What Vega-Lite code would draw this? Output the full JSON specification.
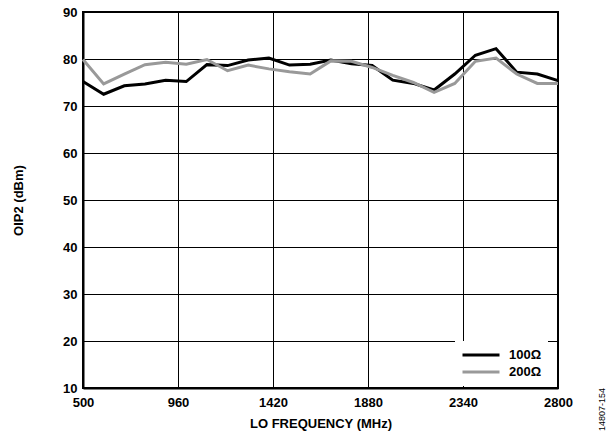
{
  "$schema": "https://vega.github.io/schema/vega-lite/v6.json",
  "width": 475,
  "height": 376,
  "autosize": {"type": "none"},
  "padding": {"left": 83, "top": 12, "right": 57, "bottom": 52},
  "background": "white",
  "title": {"text": "14807-154", "orient": "right", "anchor": "end", "frame": "group", "angle": -90, "align": "right", "fontSize": 9, "fontWeight": "normal", "font": "Liberation Sans", "color": "black", "offset": 17},
  "config": {
    "view": {"stroke": "black", "strokeWidth": 2},
    "axis": {"labelFont": "Liberation Sans", "titleFont": "Liberation Sans", "labelFontWeight": "bold", "titleFontWeight": "bold", "labelFontSize": 13, "titleFontSize": 13, "labelColor": "black", "titleColor": "black", "gridColor": "black", "gridOpacity": 1, "gridWidth": 1, "ticks": false, "domainColor": "black", "domainWidth": 2}
  },
  "data": {"values": [
    {"freq": 500, "series": "100Ω", "oip2": 75.2},
    {"freq": 600, "series": "100Ω", "oip2": 72.5},
    {"freq": 700, "series": "100Ω", "oip2": 74.3},
    {"freq": 800, "series": "100Ω", "oip2": 74.7},
    {"freq": 900, "series": "100Ω", "oip2": 75.5},
    {"freq": 1000, "series": "100Ω", "oip2": 75.2},
    {"freq": 1100, "series": "100Ω", "oip2": 78.8},
    {"freq": 1200, "series": "100Ω", "oip2": 78.6},
    {"freq": 1300, "series": "100Ω", "oip2": 79.8},
    {"freq": 1400, "series": "100Ω", "oip2": 80.2},
    {"freq": 1500, "series": "100Ω", "oip2": 78.7},
    {"freq": 1600, "series": "100Ω", "oip2": 78.9},
    {"freq": 1700, "series": "100Ω", "oip2": 79.8},
    {"freq": 1800, "series": "100Ω", "oip2": 79.0},
    {"freq": 1900, "series": "100Ω", "oip2": 78.6},
    {"freq": 2000, "series": "100Ω", "oip2": 75.5},
    {"freq": 2100, "series": "100Ω", "oip2": 74.8},
    {"freq": 2200, "series": "100Ω", "oip2": 73.4},
    {"freq": 2300, "series": "100Ω", "oip2": 76.8},
    {"freq": 2400, "series": "100Ω", "oip2": 80.8},
    {"freq": 2500, "series": "100Ω", "oip2": 82.2},
    {"freq": 2600, "series": "100Ω", "oip2": 77.2},
    {"freq": 2700, "series": "100Ω", "oip2": 76.8},
    {"freq": 2800, "series": "100Ω", "oip2": 75.4},
    {"freq": 500, "series": "200Ω", "oip2": 79.9},
    {"freq": 600, "series": "200Ω", "oip2": 74.7},
    {"freq": 700, "series": "200Ω", "oip2": 76.8},
    {"freq": 800, "series": "200Ω", "oip2": 78.8},
    {"freq": 900, "series": "200Ω", "oip2": 79.3},
    {"freq": 1000, "series": "200Ω", "oip2": 78.9},
    {"freq": 1100, "series": "200Ω", "oip2": 79.9},
    {"freq": 1200, "series": "200Ω", "oip2": 77.5},
    {"freq": 1300, "series": "200Ω", "oip2": 78.7},
    {"freq": 1400, "series": "200Ω", "oip2": 77.9},
    {"freq": 1500, "series": "200Ω", "oip2": 77.3},
    {"freq": 1600, "series": "200Ω", "oip2": 76.8},
    {"freq": 1700, "series": "200Ω", "oip2": 79.6},
    {"freq": 1800, "series": "200Ω", "oip2": 79.5},
    {"freq": 1900, "series": "200Ω", "oip2": 78.2},
    {"freq": 2000, "series": "200Ω", "oip2": 76.5},
    {"freq": 2100, "series": "200Ω", "oip2": 75.0},
    {"freq": 2200, "series": "200Ω", "oip2": 72.9},
    {"freq": 2300, "series": "200Ω", "oip2": 74.8},
    {"freq": 2400, "series": "200Ω", "oip2": 79.5},
    {"freq": 2500, "series": "200Ω", "oip2": 80.2},
    {"freq": 2600, "series": "200Ω", "oip2": 76.8},
    {"freq": 2700, "series": "200Ω", "oip2": 74.8},
    {"freq": 2800, "series": "200Ω", "oip2": 74.8}
  ]},
  "mark": {"type": "line", "strokeWidth": 3},
  "encoding": {
    "x": {"field": "freq", "type": "quantitative", "scale": {"domain": [500, 2800], "nice": false},
      "axis": {"title": "LO FREQUENCY (MHz)", "format": "d", "values": [500, 960, 1420, 1880, 2340, 2800], "labelPadding": 8, "titlePadding": 8, "labelFlush": false}},
    "y": {"field": "oip2", "type": "quantitative", "scale": {"domain": [10, 90], "nice": false},
      "axis": {"title": "OIP2 (dBm)", "format": "d", "values": [10, 20, 30, 40, 50, 60, 70, 80, 90], "labelPadding": 6, "titlePadding": 37}},
    "color": {"field": "series", "type": "nominal",
      "scale": {"domain": ["100Ω", "200Ω"], "range": ["#000000", "#999999"]},
      "legend": {"title": null, "orient": "none", "legendX": 372, "legendY": 329, "fillColor": "white", "padding": 6, "clipHeight": 16,
        "symbolType": "stroke", "symbolSize": 1369, "symbolStrokeWidth": 3, "labelOffset": 8,
        "labelFont": "Liberation Sans", "labelFontWeight": "bold", "labelFontSize": 13, "labelColor": "black", "rowPadding": 1}}
  }
}
